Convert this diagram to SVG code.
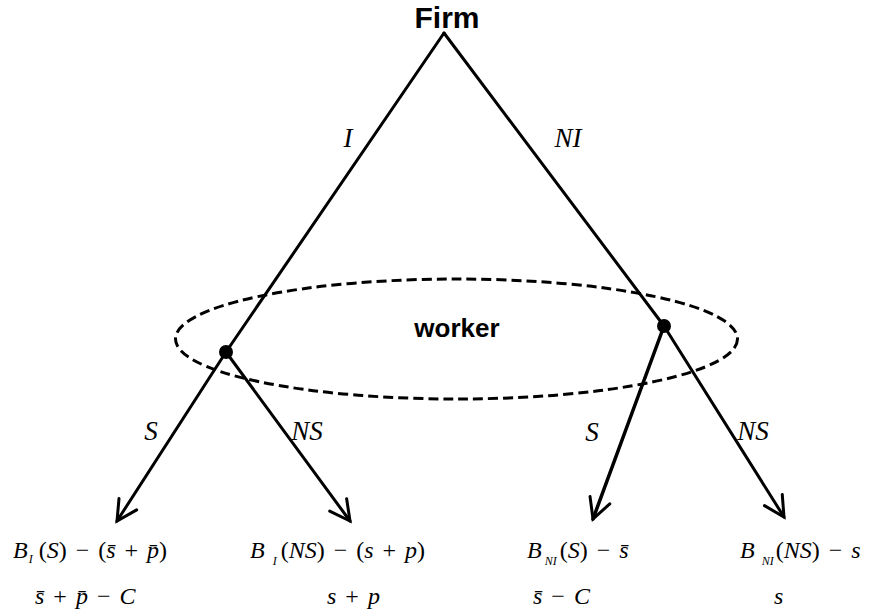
<svg xmlns="http://www.w3.org/2000/svg" width="870" height="616" viewBox="0 0 870 616">
<style>
.edge{stroke:#000;stroke-width:3;fill:none;stroke-linecap:round}
.lbl{font-family:"Liberation Serif",serif;font-style:italic;font-size:27px;fill:#000;text-anchor:middle}
.pay{font-family:"Liberation Serif",serif;font-size:24px;fill:#000;word-spacing:3px}
.it{font-style:italic}
.sub{font-style:italic;font-size:12px}
.bold{font-family:"Liberation Sans",Arial,sans-serif;font-weight:bold;fill:#000;text-anchor:middle}
</style>
<defs>
<marker id="arr" markerUnits="userSpaceOnUse" markerWidth="40" markerHeight="40" viewBox="-30 -20 40 40" refX="0" refY="0" orient="auto">
<path d="M-20,-10.5 L0,0 L-20,10.5" fill="none" stroke="#000" stroke-width="3" stroke-linecap="round" stroke-linejoin="miter"/>
</marker>
</defs>
<rect width="870" height="616" fill="#fff"/>
<g id="connectors">
<line class="edge" x1="444" y1="33" x2="226" y2="352"/>
<line class="edge" x1="444" y1="33" x2="664" y2="326"/>
<line class="edge" x1="226" y1="352" x2="117" y2="521" marker-end="url(#arr)"/>
<line class="edge" x1="226" y1="352" x2="350" y2="521" marker-end="url(#arr)"/>
<line class="edge" x1="664" y1="326" x2="593" y2="519" marker-end="url(#arr)" style="stroke-width:3.5"/>
<line class="edge" x1="664" y1="326" x2="784" y2="517" marker-end="url(#arr)"/>
</g>
<g id="info-set">
<ellipse cx="456.5" cy="339" rx="281" ry="60" fill="none" stroke="#000" stroke-width="3" stroke-dasharray="10 5"/>
<text class="bold" x="457" y="337" font-size="26">worker</text>
</g>
<g id="firm">
<text class="bold" x="447" y="28" font-size="30">Firm</text>
</g>
<g id="node-worker-I">
<circle cx="226" cy="352" r="7" fill="#000"/>
</g>
<g id="node-worker-NI">
<circle cx="664" cy="326" r="7" fill="#000"/>
</g>
<g id="edge-labels">
<text class="lbl" x="348" y="147">I</text>
<text class="lbl" x="568" y="147">NI</text>
<text class="lbl" x="151" y="440">S</text>
<text class="lbl" x="307" y="440">NS</text>
<text class="lbl" x="592" y="441">S</text>
<text class="lbl" x="753" y="440">NS</text>
</g>
<g id="payoff-I-S">
<text class="pay" x="13" y="558"><tspan class="it">B</tspan><tspan class="sub" dx="1" dy="5">I</tspan><tspan dx="6" dy="-5">(</tspan><tspan class="it">S</tspan>) − (<tspan class="it">s̄</tspan> + <tspan class="it">p̄</tspan>)</text>
<text class="pay" x="35" y="604"><tspan class="it">s̄</tspan> + <tspan class="it">p̄</tspan> − <tspan class="it">C</tspan></text>
</g>
<g id="payoff-I-NS">
<text class="pay" x="250" y="558"><tspan class="it">B</tspan><tspan class="sub" dx="8" dy="7">I</tspan><tspan dx="4" dy="-7">(</tspan><tspan class="it">NS</tspan>) − (<tspan class="it">s</tspan> + <tspan class="it">p</tspan>)</text>
<text class="pay" x="327" y="604"><tspan class="it">s</tspan> + <tspan class="it">p</tspan></text>
</g>
<g id="payoff-NI-S">
<text class="pay" x="527" y="558"><tspan class="it">B</tspan><tspan class="sub" dx="3" dy="7">NI</tspan><tspan dx="3" dy="-7">(</tspan><tspan class="it">S</tspan>) − <tspan class="it">s̄</tspan></text>
<text class="pay" x="533" y="604"><tspan class="it">s̄</tspan> − <tspan class="it">C</tspan></text>
</g>
<g id="payoff-NI-NS">
<text class="pay" x="740" y="558"><tspan class="it">B</tspan><tspan class="sub" dx="7" dy="7">NI</tspan><tspan dx="2" dy="-7">(</tspan><tspan class="it">NS</tspan>) − <tspan class="it">s</tspan></text>
<text class="pay" x="774" y="604"><tspan class="it">s</tspan></text>
</g>
</svg>
